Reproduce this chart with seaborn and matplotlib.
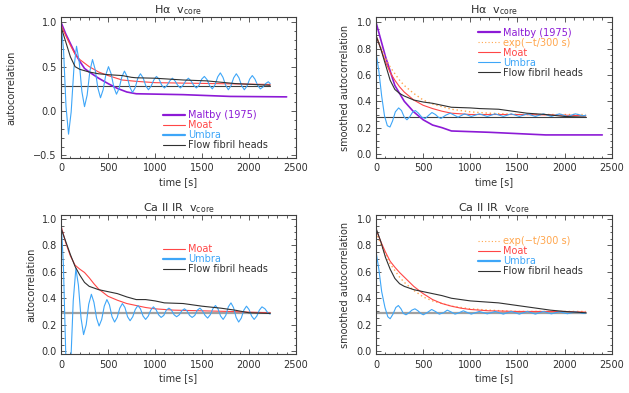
import numpy as np
import seaborn as sns
import matplotlib.pyplot as plt
from matplotlib.ticker import MultipleLocator

# ---- data (time in s, autocorrelation) ----
# H-alpha, raw autocorrelation
ha_maltby_t = [0, 50, 100, 150, 200, 250, 300, 400, 500, 600, 700, 800, 1300, 1800, 2400]
ha_maltby_v = [1.0, 0.87, 0.76, 0.65, 0.56, 0.48, 0.44, 0.37, 0.31, 0.255, 0.215, 0.195, 0.185, 0.165, 0.16]
ha_moat_t = [0, 50, 100, 150, 200, 300, 400, 500, 650, 800, 1000, 1300, 1600, 1900, 2225]
ha_moat_v = [0.97, 0.85, 0.74, 0.64, 0.58, 0.50, 0.44, 0.40, 0.35, 0.335, 0.32, 0.315, 0.31, 0.305, 0.30]
ha_flow_t = [0, 50, 100, 150, 200, 250, 300, 400, 500, 650, 750, 800, 1000, 1300, 1550, 1850, 2225]
ha_flow_v = [0.95, 0.78, 0.61, 0.50, 0.47, 0.455, 0.44, 0.42, 0.41, 0.40, 0.38, 0.375, 0.37, 0.35, 0.34, 0.31, 0.29]
ha_umbra_t = [0, 27, 53, 80, 108, 137, 165, 193, 222, 250, 278, 307, 335, 363, 392, 420,
              448, 477, 505, 533, 562, 590, 618, 647, 675, 703, 732, 760, 788, 817, 845,
              873, 902, 930, 958, 987, 1015, 1043, 1072, 1100, 1128, 1157, 1185, 1213,
              1242, 1270, 1298, 1327, 1355, 1383, 1412, 1440, 1468, 1497, 1525, 1553,
              1582, 1610, 1638, 1667, 1695, 1723, 1752, 1780, 1808, 1837, 1865, 1893,
              1922, 1950, 1978, 2007, 2035, 2063, 2092, 2120, 2148, 2177, 2205, 2225]
ha_umbra_v = [1.0, 0.685, 0.055, -0.26, -0.01, 0.48, 0.73, 0.56, 0.22, 0.05, 0.18, 0.45,
              0.58, 0.47, 0.26, 0.15, 0.24, 0.41, 0.50, 0.42, 0.27, 0.19, 0.255, 0.385,
              0.45, 0.39, 0.27, 0.21, 0.26, 0.37, 0.42, 0.375, 0.285, 0.24, 0.28, 0.35,
              0.39, 0.36, 0.29, 0.26, 0.29, 0.34, 0.37, 0.34, 0.29, 0.26, 0.29, 0.34,
              0.37, 0.34, 0.29, 0.26, 0.29, 0.36, 0.39, 0.355, 0.285, 0.25, 0.295, 0.385,
              0.43, 0.38, 0.29, 0.24, 0.285, 0.375, 0.42, 0.375, 0.285, 0.24, 0.28, 0.36,
              0.40, 0.36, 0.29, 0.25, 0.27, 0.31, 0.33, 0.31]

# H-alpha, smoothed autocorrelation
has_maltby_t = [0, 100, 200, 300, 400, 500, 600, 700, 800, 1200, 1800, 2400]
has_maltby_v = [1.0, 0.74, 0.52, 0.40, 0.32, 0.26, 0.22, 0.20, 0.175, 0.165, 0.145, 0.145]
has_moat_t = [0, 50, 100, 150, 200, 250, 300, 400, 500, 600, 700, 800, 1000, 1500, 2000, 2225]
has_moat_v = [0.90, 0.80, 0.70, 0.62, 0.56, 0.51, 0.47, 0.41, 0.37, 0.345, 0.325, 0.31, 0.30, 0.30, 0.295, 0.29]
has_flow_t = [0, 50, 100, 150, 200, 250, 300, 400, 500, 600, 700, 800, 1000, 1100, 1300,
              1450, 1600, 1800, 2000, 2225]
has_flow_v = [0.90, 0.80, 0.68, 0.56, 0.49, 0.46, 0.44, 0.41, 0.395, 0.385, 0.37, 0.355,
              0.35, 0.345, 0.34, 0.325, 0.31, 0.30, 0.285, 0.28]
has_umbra_t = [0, 30, 60, 90, 120, 148, 175, 205, 240, 270, 300, 328, 360, 390, 417, 450,
               485, 523, 560, 593, 630, 660, 689, 740, 787, 830, 870, 940, 1010, 1095,
               1180, 1265, 1350, 1435, 1520, 1605, 1690, 1775, 1860, 1945, 2030, 2115, 2200, 2225]
has_umbra_v = [0.77, 0.63, 0.44, 0.29, 0.215, 0.205, 0.25, 0.32, 0.35, 0.33, 0.28, 0.26,
               0.285, 0.32, 0.33, 0.31, 0.28, 0.27, 0.295, 0.315, 0.30, 0.28, 0.27, 0.295,
               0.31, 0.295, 0.28, 0.305, 0.285, 0.305, 0.285, 0.305, 0.285, 0.305, 0.285,
               0.305, 0.285, 0.305, 0.285, 0.305, 0.285, 0.305, 0.29, 0.295]

# exp(-t/300 s) reference curve (same in both smoothed panels)
exp_t = [0, 50, 100, 150, 200, 250, 300, 400, 500, 600, 700, 800, 900, 1000, 1200, 1500, 1800, 2225]
exp_v = [0.90, 0.81, 0.73, 0.66, 0.61, 0.56, 0.52, 0.46, 0.41, 0.38, 0.36, 0.34, 0.33,
         0.32, 0.31, 0.30, 0.30, 0.30]

# Ca II IR, raw autocorrelation
ca_moat_t = [0, 50, 100, 150, 200, 250, 300, 350, 400, 500, 600, 700, 800, 900, 1000,
             1200, 1500, 1800, 2000, 2225]
ca_moat_v = [0.95, 0.82, 0.72, 0.65, 0.62, 0.595, 0.555, 0.51, 0.47, 0.415, 0.385, 0.36,
             0.345, 0.33, 0.32, 0.31, 0.305, 0.30, 0.295, 0.29]
ca_flow_t = [0, 50, 100, 150, 200, 250, 300, 400, 500, 600, 700, 800, 900, 1000, 1100,
             1300, 1500, 1700, 1850, 2000, 2225]
ca_flow_v = [0.93, 0.83, 0.73, 0.64, 0.575, 0.52, 0.49, 0.465, 0.45, 0.435, 0.41, 0.39,
             0.39, 0.38, 0.365, 0.36, 0.34, 0.325, 0.31, 0.29, 0.285]
ca_umbra_t = [0, 25, 50, 75, 103, 130, 158, 185, 213, 240, 268, 295, 323, 350, 378, 405,
              433, 460, 488, 515, 543, 570, 598, 625, 653, 680, 708, 735, 763, 790, 818,
              845, 873, 900, 928, 955, 983, 1010, 1038, 1065, 1093, 1120, 1148, 1175,
              1203, 1230, 1258, 1285, 1313, 1340, 1368, 1395, 1423, 1450, 1478, 1505,
              1533, 1560, 1588, 1615, 1643, 1670, 1698, 1725, 1753, 1780, 1808, 1835,
              1863, 1890, 1918, 1945, 1973, 2000, 2028, 2055, 2083, 2110, 2138, 2170,
              2200, 2225]
ca_umbra_v = [1.0, 0.66, -0.01, -0.35, -0.105, 0.38, 0.625, 0.50, 0.25, 0.125, 0.20, 0.355,
              0.43, 0.37, 0.25, 0.19, 0.24, 0.34, 0.39, 0.35, 0.26, 0.22, 0.255, 0.325,
              0.36, 0.33, 0.26, 0.23, 0.26, 0.315, 0.345, 0.32, 0.265, 0.24, 0.265, 0.31,
              0.335, 0.315, 0.275, 0.255, 0.27, 0.31, 0.325, 0.31, 0.275, 0.26, 0.275,
              0.305, 0.32, 0.305, 0.27, 0.255, 0.27, 0.31, 0.325, 0.305, 0.27, 0.25,
              0.275, 0.32, 0.345, 0.32, 0.265, 0.24, 0.27, 0.335, 0.365, 0.33, 0.255,
              0.22, 0.25, 0.31, 0.34, 0.315, 0.265, 0.24, 0.265, 0.31, 0.335, 0.32, 0.29, 0.28]

# Ca II IR, smoothed autocorrelation
cas_moat_t = [0, 50, 100, 150, 200, 250, 300, 400, 500, 600, 700, 800, 900, 1000, 1200,
              1500, 1800, 2000, 2225]
cas_moat_v = [0.92, 0.83, 0.75, 0.68, 0.635, 0.595, 0.56, 0.49, 0.435, 0.39, 0.36, 0.34,
              0.325, 0.315, 0.305, 0.30, 0.30, 0.30, 0.295]
cas_flow_t = [0, 50, 100, 150, 200, 250, 300, 400, 500, 600, 700, 800, 900, 1000, 1100,
              1300, 1500, 1700, 1850, 2000, 2225]
cas_flow_v = [0.93, 0.83, 0.71, 0.62, 0.55, 0.51, 0.49, 0.465, 0.45, 0.435, 0.42, 0.40,
              0.39, 0.38, 0.375, 0.365, 0.345, 0.325, 0.31, 0.30, 0.29]
cas_umbra_t = [0, 30, 60, 95, 125, 150, 180, 210, 237, 265, 290, 318, 350, 380, 413, 445,
               475, 502, 540, 590, 630, 671, 715, 756, 800, 838, 880, 926, 1010, 1095,
               1180, 1265, 1350, 1435, 1520, 1605, 1690, 1775, 1860, 1945, 2030, 2115, 2200, 2225]
cas_umbra_v = [0.755, 0.62, 0.45, 0.33, 0.26, 0.245, 0.28, 0.33, 0.345, 0.32, 0.285,
               0.275, 0.29, 0.31, 0.32, 0.305, 0.285, 0.275, 0.29, 0.315, 0.30, 0.28,
               0.29, 0.31, 0.295, 0.28, 0.29, 0.305, 0.28, 0.30, 0.282, 0.30, 0.28, 0.30,
               0.28, 0.30, 0.28, 0.30, 0.282, 0.298, 0.283, 0.297, 0.285, 0.29]

# mean level lines
mean_t = [0, 2225]
mean_ha = [0.28, 0.28]
mean_ca = [0.285, 0.285]

# ---- style ----
C_MALTBY = '#8c1ad6'
C_MOAT = '#ff4646'
C_UMBRA = '#3ea6f8'
C_FLOW = '#303030'
C_EXP = '#ffa64d'
TXT = '#303030'

sns.set_style('ticks')
plt.rcParams['font.family'] = ['DejaVu Sans']
plt.rcParams['axes.edgecolor'] = '#404040'
plt.rcParams['axes.linewidth'] = 0.8

fig = plt.figure(figsize=(6.29, 3.93), dpi=100)
ax_tl = fig.add_axes([0.0970, 0.5987, 0.3736, 0.3573])
ax_tr = fig.add_axes([0.5978, 0.5987, 0.3747, 0.3573])
ax_bl = fig.add_axes([0.0970, 0.0992, 0.3736, 0.3537])
ax_br = fig.add_axes([0.5978, 0.0992, 0.3747, 0.3537])


def line(ax, t, v, color, lw=0.8, label=None, **kw):
    sns.lineplot(x=t, y=v, ax=ax, color=color, linewidth=lw, label=label, **kw)


def style(ax, ylim, ymaj, ymin, ylabel, title, ylx, tpad):
    ax.set_xlim(0, 2500)
    ax.set_ylim(*ylim)
    ax.xaxis.set_major_locator(MultipleLocator(500))
    ax.xaxis.set_minor_locator(MultipleLocator(100))
    ax.yaxis.set_major_locator(MultipleLocator(ymaj))
    ax.yaxis.set_minor_locator(MultipleLocator(ymin))
    ax.tick_params(which='both', direction='in', top=True, right=True,
                   color='#404040', labelcolor=TXT, labelsize=7, width=0.6)
    ax.tick_params(which='major', length=3.6)
    ax.tick_params(which='minor', length=1.8)
    ax.tick_params(axis='x', pad=4)
    ax.tick_params(axis='y', pad=3)
    ax.set_xlabel('time [s]', fontsize=7, color=TXT)
    ax.set_ylabel(ylabel, fontsize=7, color=TXT)
    ax.xaxis.set_label_coords(0.5, -0.137)
    ax.yaxis.set_label_coords(ylx, 0.5)
    ax.set_title(title, fontsize=8, color=TXT, pad=tpad)


def legend(ax, x, y, thick):
    leg = ax.legend(loc='upper left', bbox_to_anchor=(x, y), frameon=False,
                    fontsize=7, labelcolor='linecolor', handlelength=2.26,
                    handletextpad=0.28, labelspacing=0.0, borderpad=0,
                    borderaxespad=0)
    for ln in leg.get_lines():
        ln.set_linewidth(0.8)
    for i in thick:
        leg.get_lines()[i].set_linewidth(1.6)


# top left: H-alpha autocorrelation
line(ax_tl, mean_t, mean_ha, '#404040', lw=0.8)
line(ax_tl, ha_maltby_t, ha_maltby_v, C_MALTBY, lw=1.2, label='Maltby (1975)')
line(ax_tl, ha_moat_t, ha_moat_v, C_MOAT, label='Moat')
line(ax_tl, ha_umbra_t, ha_umbra_v, C_UMBRA, label='Umbra')
line(ax_tl, ha_flow_t, ha_flow_v, C_FLOW, label='Flow fibril heads')
style(ax_tl, (-0.525, 1.056), 0.5, 0.1, 'autocorrelation', 'H\u03b1  v$_{\\rm core}$', -0.189, 1.7)
legend(ax_tl, 0.434, 0.337, [0, 2])

# top right: H-alpha smoothed
line(ax_tr, mean_t, mean_ha, '#404040', lw=0.8)
line(ax_tr, has_maltby_t, has_maltby_v, C_MALTBY, lw=1.2, label='Maltby (1975)')
line(ax_tr, exp_t, exp_v, C_EXP, lw=1.0, label='exp(\u2212t/300 s)', linestyle=(0, (1, 2)))
line(ax_tr, has_moat_t, has_moat_v, C_MOAT, label='Moat')
line(ax_tr, has_umbra_t, has_umbra_v, C_UMBRA, label='Umbra')
line(ax_tr, has_flow_t, has_flow_v, C_FLOW, label='Flow fibril heads')
style(ax_tr, (-0.028, 1.038), 0.2, 0.05, 'smoothed autocorrelation', 'H\u03b1  v$_{\\rm core}$', -0.112, 1.7)
legend(ax_tr, 0.433, 0.926, [0])

# bottom left: Ca II IR autocorrelation
line(ax_bl, mean_t, mean_ca, '#a0a0a0', lw=1.6)
line(ax_bl, ca_moat_t, ca_moat_v, C_MOAT, label='Moat')
line(ax_bl, ca_umbra_t, ca_umbra_v, C_UMBRA, label='Umbra')
line(ax_bl, ca_flow_t, ca_flow_v, C_FLOW, label='Flow fibril heads')
style(ax_bl, (-0.022, 1.03), 0.2, 0.05, 'autocorrelation', 'Ca II IR  v$_{\\rm core}$', -0.106, 3)
legend(ax_bl, 0.434, 0.788, [1])

# bottom right: Ca II IR smoothed
line(ax_br, mean_t, mean_ca, '#a0a0a0', lw=1.6)
line(ax_br, exp_t, exp_v, C_EXP, lw=1.0, label='exp(\u2212t/300 s)', linestyle=(0, (1, 2)))
line(ax_br, cas_moat_t, cas_moat_v, C_MOAT, label='Moat')
line(ax_br, cas_umbra_t, cas_umbra_v, C_UMBRA, label='Umbra')
line(ax_br, cas_flow_t, cas_flow_v, C_FLOW, label='Flow fibril heads')
style(ax_br, (-0.022, 1.03), 0.2, 0.05, 'smoothed autocorrelation', 'Ca II IR  v$_{\\rm core}$', -0.112, 3)
legend(ax_br, 0.433, 0.848, [2])

fig.savefig('out.png', dpi=100)
